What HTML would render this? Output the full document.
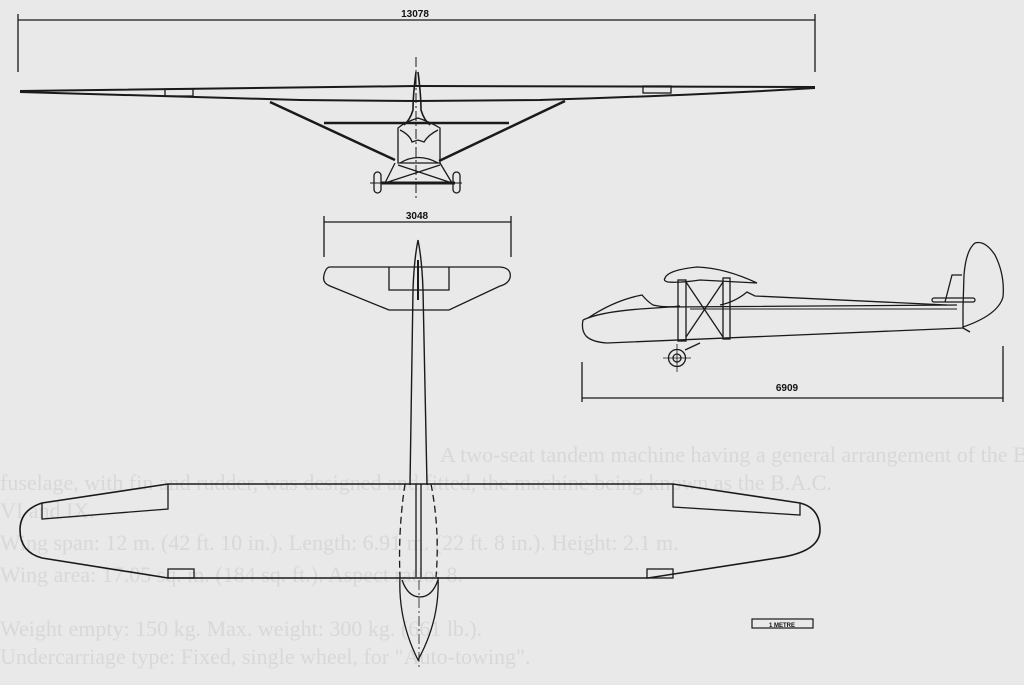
<!DOCTYPE html>
<html><head><meta charset="utf-8"><style>
html,body{margin:0;padding:0;background:#e9e9e9;}
svg{display:block}
</style></head><body>
<svg width="1024" height="685" viewBox="0 0 1024 685" xmlns="http://www.w3.org/2000/svg">
<rect width="1024" height="685" fill="#e9e9e9"/>
<g font-family="Liberation Serif, serif" font-size="22" fill="#d8d8d8">
<text x="440" y="462">A two-seat tandem machine having a general arrangement of the B.A.C. VI. A revised</text>
<text x="0" y="490">fuselage, with fin and rudder, was designed and fitted, the machine being known as the B.A.C.</text>
<text x="0" y="518">VI and IX.</text>
<text x="0" y="550">Wing span: 12 m. (42 ft. 10 in.). Length: 6.91 m. (22 ft. 8 in.). Height: 2.1 m.</text>
<text x="0" y="582">Wing area: 17.05 sq. m. (184 sq. ft.). Aspect ratio: 8.</text>
<text x="0" y="636">Weight empty: 150 kg. Max. weight: 300 kg. (661 lb.).</text>
<text x="0" y="664">Undercarriage type: Fixed, single wheel, for "Auto-towing".</text>
</g>
<g stroke="#1a1a1a" fill="none" stroke-width="1.3">
<line x1="18" y1="20" x2="815" y2="20"/>
<line x1="18" y1="14" x2="18" y2="72"/>
<line x1="815" y1="14" x2="815" y2="72"/>
<path d="M20,91 L416,86 L815,87" stroke-width="2"/>
<path d="M20,92 Q200,97 300,100 L416,101 L540,100 Q700,95 815,88" stroke-width="2"/>
<rect x="165" y="89" width="28" height="7"/>
<rect x="643" y="86" width="28" height="7"/>
<line x1="416" y1="57" x2="416" y2="200" stroke-dasharray="10,3,2,3" stroke-width="1"/>
<path d="M416,72 Q413,95 413,110 Q410,120 404,125 M418,72 Q421,95 421,110 Q424,120 430,125" stroke-width="1.6"/>
<line x1="270" y1="102" x2="395" y2="160" stroke-width="2.5"/>
<line x1="565" y1="101" x2="439" y2="161" stroke-width="2.5"/>
<line x1="324" y1="123" x2="509" y2="123" stroke-width="2.5"/>
<path d="M398,128 L398,163 L440,163 L440,128 Q430,122 418,118 Q405,122 398,128 Z"/>
<path d="M400,130 Q410,135 412,142 L418,140 L424,142 Q428,135 438,130"/>
<path d="M400,163 Q418,152 438,163"/>
<path d="M395,163 L385,183 M440,163 L452,183 M398,165 L452,183 M440,165 L385,183"/>
<line x1="381" y1="183" x2="455" y2="183" stroke-width="3"/>
<rect x="374" y="172" width="7" height="21" rx="3.5"/>
<rect x="453" y="172" width="7" height="21" rx="3.5"/>
<line x1="370" y1="183" x2="462" y2="183" stroke-width="1"/>
<line x1="324" y1="222" x2="511" y2="222"/>
<line x1="324" y1="216" x2="324" y2="257"/>
<line x1="511" y1="216" x2="511" y2="257"/>
<path d="M330,267 L500,267 Q512,268 510,278 Q508,284 500,286 L449,310 L389,310 L330,286 Q322,283 324,275 Q326,267 330,267 Z"/>
<path d="M389,267 L389,290 L449,290 L449,267"/>
<path d="M418,240 Q414,260 413,290 L410,485 M418,240 Q422,260 423,290 L427,485" stroke-width="1.4"/>
<path d="M418,260 L418,300" stroke-width="2"/>
<path d="M168,484 L42,503 Q20,510 20,530 Q20,552 42,558 L168,578 L648,578 L777,558 Q820,552 820,530 Q820,508 800,503 L673,484 Z" stroke-width="1.6"/>
<path d="M42,503 L42,519 L168,509 L168,484"/>
<path d="M673,484 L673,507 L800,515 L800,503"/>
<rect x="168" y="569" width="26" height="9"/>
<rect x="647" y="569" width="26" height="9"/>
<path d="M405,484 Q398,530 400,577 M431,484 Q440,530 436,577" stroke-dasharray="7,4"/>
<line x1="416" y1="484" x2="416" y2="577"/>
<line x1="421" y1="484" x2="421" y2="577"/>
<path d="M400,577 Q398,620 418,660 Q440,620 438,577"/>
<path d="M402,580 Q408,597 420,597 Q432,597 438,580"/>
<line x1="419" y1="580" x2="419" y2="668" stroke-width="0.8" stroke-dasharray="10,3,2,3"/>
<rect x="752" y="619" width="61" height="9" stroke-width="1.2"/>
<path d="M583,320 Q600,312 640,309 L670,307 L957,305" />
<path d="M583,320 Q581,330 586,336 Q592,342 607,343 L963,328" />
<path d="M588,318 Q615,300 642,295 Q648,302 653,305 Q665,308 680,306"/>
<path d="M720,305 Q735,302 747,292 L755,296 L947,305"/>
<line x1="690" y1="309" x2="957" y2="309" stroke-width="1"/>
<path d="M665,278 Q668,270 697,267 Q725,268 757,283 L700,280 Q680,283 668,282 Q663,281 665,278 Z"/>
<rect x="678" y="280" width="8" height="61"/>
<rect x="723" y="278" width="7" height="61"/>
<path d="M686,282 L723,337 M723,282 L686,337"/>
<line x1="685" y1="350" x2="700" y2="343"/>
<circle cx="677" cy="358" r="8.5"/>
<circle cx="677" cy="358" r="4"/>
<line x1="663" y1="358" x2="691" y2="358" stroke-width="0.8"/>
<line x1="677" y1="344" x2="677" y2="372" stroke-width="0.8"/>
<path d="M963,328 L963,307 L964,275 Q966,250 975,243 Q985,240 995,255 Q1005,275 1003,297 Q998,315 963,327"/>
<path d="M945,302 L952,275 L962,275"/>
<rect x="932" y="298" width="43" height="4" rx="2"/>
<path d="M963,328 L970,332"/>
<line x1="582" y1="398" x2="1003" y2="398"/>
<line x1="582" y1="362" x2="582" y2="402"/>
<line x1="1003" y1="346" x2="1003" y2="402"/>
</g>
<g font-family="Liberation Sans, sans-serif" font-size="10" fill="#111" text-anchor="middle" font-weight="bold">
<text x="415" y="17">13078</text>
<text x="417" y="219">3048</text>
<text x="787" y="391">6909</text>
<text x="782" y="627" font-size="6">1 METRE</text>
</g>
</svg>
</body></html>
